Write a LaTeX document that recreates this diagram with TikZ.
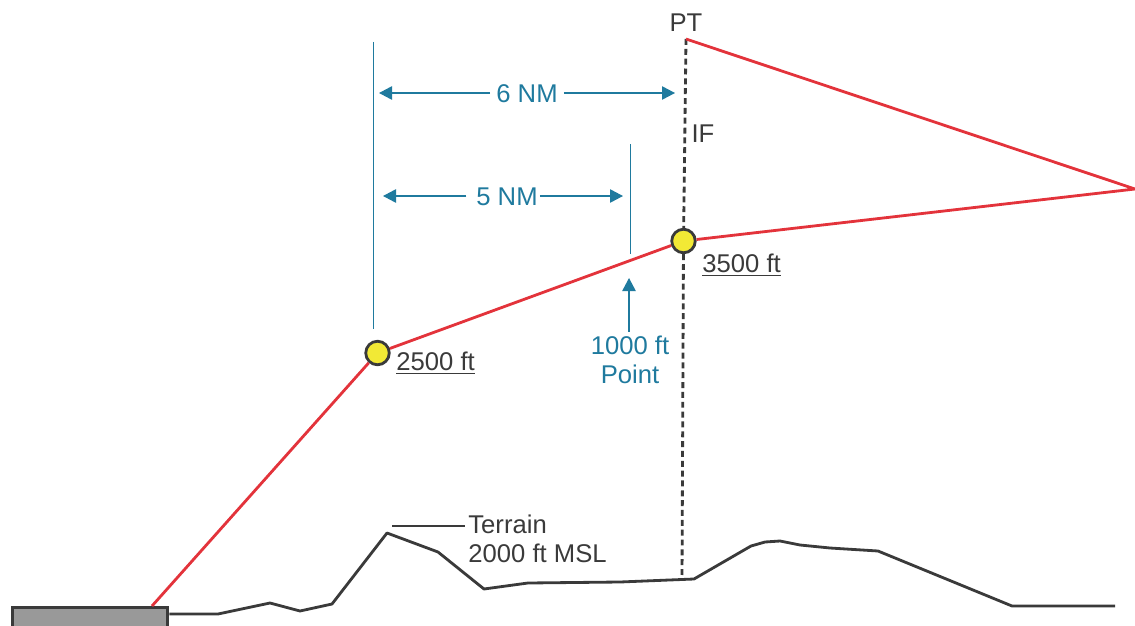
\documentclass[tikz,border=0pt]{standalone}
\usepackage{fontspec}
\setmainfont{Liberation Sans}
\definecolor{apdark}{HTML}{3A3A3A}
\definecolor{apblue}{HTML}{1F7A9E}
\definecolor{apred}{HTML}{E3333B}
\definecolor{apyellow}{HTML}{F2E935}
\definecolor{apgray}{HTML}{999999}
\usetikzlibrary{arrows.meta,positioning}

\begin{document}
\begin{tikzpicture}[
  x=0.02cm, y=-0.02cm,
  lbl/.style={font=\fontsize{14.6}{17}\selectfont, text=apdark, inner sep=0pt},
  dimlbl/.style={lbl, text=apblue, align=center},
  path3/.style={draw=apred, line width=1.6pt},
  ground/.style={draw=apdark, line width=1.6pt},
  dimline/.style={draw=apblue, line width=0.8pt},
  dimarrow/.style={dimline, -{Triangle[length=7.4pt,width=7.6pt]}},
  fix/.style={circle, draw=apdark, fill=apyellow, line width=1.6pt, minimum size=13.4pt, inner sep=0pt}
]
  \useasboundingbox (0,0) rectangle (1135,625);

  % Fixed points along the profile
  \coordinate (threshold) at (152,606);
  \coordinate (pt) at (686,39);
  \coordinate (apex) at (1135,189);
  \coordinate (ifbase) at (682,580);
  \node[fix] (fix2500) at (377.5,353) {};
  \node[fix] (fix3500) at (683.5,241) {};

  % Runway and terrain
  \node[draw=apdark, fill=apgray, line width=1.6pt, minimum width=88.5pt, minimum height=14pt,
    inner sep=0pt, anchor=north west] (runway) at (11,606) {};
  \draw[ground, line join=round] (runway.east |- 0,614) -- (218,614) -- (270,603) -- (300,611) -- (332,604)
    -- (387,533) -- (438,552) -- (484,589) -- (528,583) -- (620,582) -- (694,579) -- (751,546)
    -- (765,542) -- (780,541) -- (800,545) -- (830,548) -- (878,551) -- (1012,606) -- (1115,606);

  % Dashed vertical at the IF
  \draw[draw=apdark, line width=1.6pt, dash pattern=on 3.4pt off 2.2pt] (pt) -- (fix3500);
  \draw[draw=apdark, line width=1.6pt, dash pattern=on 3.4pt off 2.2pt] (fix3500) -- (ifbase);

  % Approach path
  \draw[path3] (threshold) -- (fix2500);
  \draw[path3] (fix2500) -- (fix3500);
  \draw[path3] (fix3500) -- (apex) -- (pt);

  % Extension lines
  \coordinate (ext6top) at (373.5,42);
  \coordinate (ext6bot) at (373.5,329);
  \coordinate (ext5top) at (630.5,144);
  \coordinate (ext5bot) at (630.5,254);
  \draw[dimline] (ext6top) -- (ext6bot);
  \draw[dimline] (ext5top) -- (ext5bot);

  % Dimensions
  \node[dimlbl] (dist6) at (527,93.5) {6 NM};
  \coordinate (end6l) at (379,93);
  \coordinate (end6r) at (675,93);
  \draw[dimarrow] (dist6.west |- end6l) ++(-3.4pt,0) -- (end6l);
  \draw[dimarrow] (dist6.east |- end6r) ++(3.4pt,0) -- (end6r);
  \node[dimlbl] (dist5) at (507,196.5) {5 NM};
  \coordinate (end5l) at (383,196);
  \coordinate (end5r) at (623,196);
  \draw[dimarrow] (dist5.west |- end5l) ++(-5.5pt,0) -- (end5l);
  \draw[dimarrow] (dist5.east |- end5r) ++(1pt,0) -- (end5r);

  % 1000 ft point
  \node[dimlbl, font=\fontsize{14.6}{16.6}\selectfont] (point1000) at (630,360) {1000 ft\\Point};
  \coordinate (tip1000) at (629,278);
  \draw[dimarrow] (point1000.north -| tip1000) ++(0,-4) -- (tip1000);

  % Labels
  \node[lbl] (ptlabel) at (686,22.5) {PT};
  \node[lbl] (iflabel) at (703,133.5) {IF};
  \node[lbl, anchor=west] (alt3500) at (702,265) {\underline{3500 ft}};
  \node[lbl, anchor=west] (alt2500) at (396,363) {\underline{2500 ft}};
  \node[lbl, anchor=north west, align=left, font=\fontsize{14.6}{16.6}\selectfont] (terrain) at (468,514.5) {Terrain\\2000 ft MSL};
  \coordinate (leader) at (392,526);
  \draw[draw=apdark, line width=0.6pt] (leader) -- (465,526);
\end{tikzpicture}
\end{document}
